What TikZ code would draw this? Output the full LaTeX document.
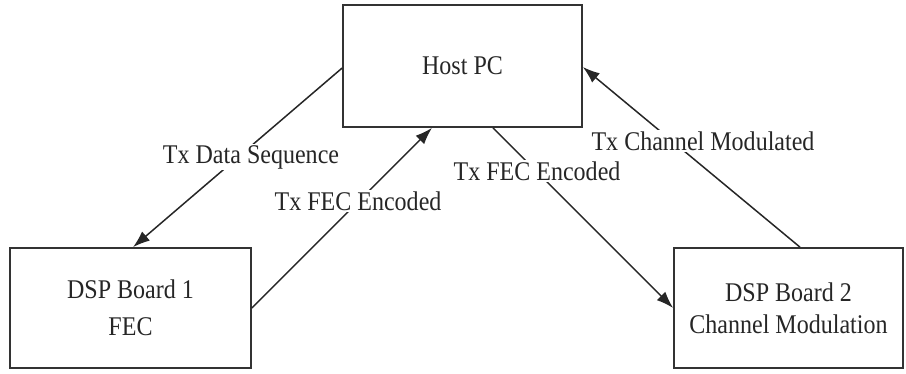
\documentclass[tikz,border=0pt]{standalone}
\usepackage{fontspec}
\setmainfont{Liberation Serif}[FakeStretch=0.89]
\usetikzlibrary{arrows.meta}
\begin{document}
\begin{tikzpicture}[x=1pt,y=-1pt,
  every node/.style={font=\fontsize{27}{32}\selectfont, text=black!85},
  unit/.style={draw=black!80, line width=1.7pt, inner sep=0pt, align=center},
  flow/.style={draw=black!85, line width=1.5pt, -{Latex[length=17pt,width=12pt]}},
  lbl/.style={fill=white, inner sep=1.5pt, anchor=base}]
  \useasboundingbox (0,0) rectangle (906,373);

  % blocks
  \node[unit, minimum width=239pt, minimum height=122pt] (host) at (462.5,66) {Host PC};
  \node[unit, minimum width=241pt, minimum height=120pt] (dsp1) at (130.5,308) {DSP Board 1\\[5pt]FEC};
  \node[unit, minimum width=229pt, minimum height=120pt] (dsp2) at (788.5,308) {DSP Board 2\\Channel Modulation};

  % attachment points on the block borders
  \coordinate (h-w) at (host.west |- 0,68);
  \coordinate (h-sl) at (432,0 |- host.south);
  \coordinate (h-sr) at (493,0 |- host.south);
  \coordinate (h-e) at (host.east |- 0,67);
  \coordinate (d1-n) at (133,0 |- dsp1.north);
  \coordinate (d1-e) at (dsp1.east |- 0,308);
  \coordinate (d2-w) at (dsp2.west |- 0,308);
  \coordinate (d2-n) at (800,0 |- dsp2.north);

  % data paths
  \draw[flow] (h-w) -- (d1-n);
  \draw[flow] (d1-e) -- (h-sl);
  \draw[flow] (h-sr) -- (d2-w);
  \draw[flow] (d2-n) -- (h-e);

  % path labels
  \node[lbl] (l1) at (251,163) {Tx Data Sequence};
  \node[lbl] (l2) at (358,210) {Tx FEC Encoded};
  \node[lbl] (l3) at (537,180) {Tx FEC Encoded};
  \node[lbl] (l4) at (703,150) {Tx Channel Modulated};
\end{tikzpicture}
\end{document}
